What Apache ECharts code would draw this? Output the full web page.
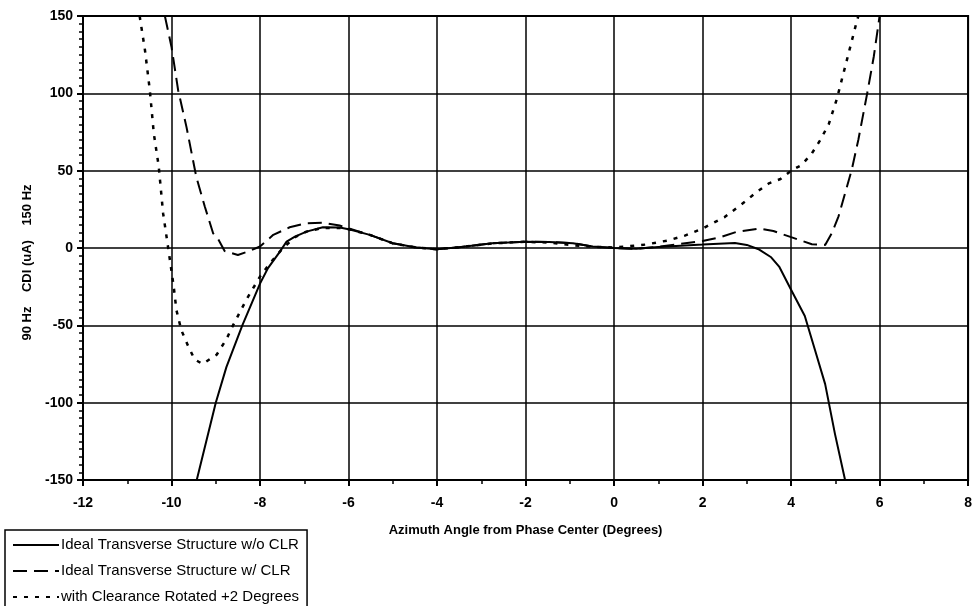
<!DOCTYPE html>
<html>
<head>
<meta charset="utf-8">
<script src="https://cdn.jsdelivr.net/npm/echarts@6/dist/echarts.min.js"></script>
<style>
html,body{margin:0;padding:0;background:#fff;}
#chart{width:975px;height:606px;}
</style>
</head>
<body>
<div id="chart"></div>
<script>
// Tick settings (values)
const xTicks = { min: -12, max: 8, step: 2 };
const yTicks = { min: -150, max: 150, step: 50 };

const seriesNames = [
  'Ideal Transverse Structure w/o CLR',
  'Ideal Transverse Structure w/ CLR',
  'with Clearance Rotated +2 Degrees'
];

// [azimuth deg, CDI uA]
const idealNoClr = [
  [-9.43,-150],[-9.0,-100],[-8.76,-77],[-8.4,-50],[-8.0,-23],[-7.82,-13],[-7.55,-2.3],
  [-7.40,4.1],[-7.21,7.4],[-6.95,10.6],[-6.58,13.4],[-6.2,13.2],[-5.97,12],[-5.52,8.5],
  [-5.0,3.1],[-4.47,0.3],[-4.0,-0.8],[-3.5,0.5],[-2.75,3.1],[-2.0,4.1],[-1.46,3.9],
  [-0.93,3.1],[-0.48,0.9],[0,0],[0.5,-0.5],[1.0,0.6],[1.5,1.5],[2.0,2.2],[2.73,3.3],
  [3.0,2],[3.28,-1],[3.55,-6],[3.73,-12],[4.0,-27],[4.31,-44],[4.54,-66],[4.77,-88],
  [4.99,-120],[5.22,-150]
];

const idealWithClr = [
  [-10.15,150],[-10.0,130],[-9.85,102],[-9.66,78],[-9.44,46],[-9.25,27],[-9.06,9.5],
  [-8.95,6],[-8.8,-2],[-8.5,-4.5],[-8.25,-2],[-8.0,1],[-7.7,8.5],[-7.33,13.4],[-6.95,16],
  [-6.58,16.4],[-6.2,14.5],[-5.97,12.5],[-5.52,8.5],[-5.0,3.1],[-4.47,0.3],[-4.0,-0.8],
  [-3.5,0.5],[-2.75,3.1],[-2.0,4.1],[-1.46,3.9],[-0.93,3.1],[-0.48,0.9],[0,0],[0.5,-0.5],
  [1.0,0.8],[1.39,2.2],[2.0,4.5],[2.4,7],[2.75,10.3],[3.28,12.6],[3.6,11],[4.0,7],
  [4.47,2.4],[4.77,2],[4.92,9.6],[5.07,20.3],[5.22,35.4],[5.37,50.5],[5.52,70],
  [5.72,100],[5.87,124],[6.0,150]
];

const rotatedClr = [
  [-10.72,150],[-10.6,128],[-10.49,102],[-10.40,74],[-10.29,53],[-10.19,22.5],[-10.08,1],
  [-9.95,-25],[-9.89,-40],[-9.78,-53],[-9.63,-63],[-9.48,-72],[-9.3,-75],[-8.98,-69],
  [-8.76,-59],[-8.61,-50],[-8.31,-33.5],[-8.0,-18.5],[-7.78,-10],[-7.48,0],[-7.21,7],
  [-6.95,10.6],[-6.58,13],[-6.2,13],[-5.97,12],[-5.52,8.5],[-5.0,3],[-4.47,0.3],
  [-4.0,-0.8],[-3.5,0.5],[-2.75,3],[-2.0,4],[-1.46,3.5],[-0.93,1.7],[-0.48,0.8],[0,0.3],
  [0.71,2.2],[1.24,5],[1.6,8],[2.0,12.6],[2.5,20],[2.96,30],[3.23,36.4],[3.5,41.8],
  [3.76,44.6],[4.0,50],[4.24,53.7],[4.47,61.2],[4.66,69.8],[4.85,80],[5.03,96],
  [5.22,117],[5.48,146],[5.52,150]
];

const chart = echarts.init(document.getElementById('chart'), null, {renderer: 'canvas'});
const FONT = 'Liberation Sans, Arial, sans-serif';

chart.setOption({
  animation: false,
  backgroundColor: '#fff',
  grid: {
    left: 83, right: 6, top: 16, bottom: 126,
    show: true, borderColor: '#000', borderWidth: 2, backgroundColor: '#fff'
  },
  legend: {
    orient: 'vertical',
    left: 5, top: 530, height: 200,
    padding: [7, 8, 8, 7],
    borderColor: '#000', borderWidth: 1.5,
    itemWidth: 46, itemHeight: 14, itemGap: 10,
    itemStyle: { color: 'rgba(0,0,0,0)', borderWidth: 0, opacity: 0 },
    textStyle: { fontFamily: FONT, fontSize: 15, color: '#000', lineHeight: 16, padding: [0,0,0,-3] },
    data: seriesNames
  },
  xAxis: {
    type: 'value',
    min: xTicks.min, max: xTicks.max, interval: xTicks.step,
    name: 'Azimuth Angle from Phase Center (Degrees)',
    nameLocation: 'middle', nameGap: 44,
    nameTextStyle: { fontFamily: FONT, fontSize: 13, fontWeight: 'bold', color: '#000' },
    axisLine: { onZero: false, lineStyle: { color: '#000', width: 2 } },
    axisTick: { show: true, length: 6, lineStyle: { color: '#000', width: 2 } },
    minorTick: { show: true, splitNumber: 2, length: 4, lineStyle: { color: '#000', width: 1.5 } },
    axisLabel: { fontFamily: FONT, fontSize: 14, fontWeight: 'bold', color: '#000', margin: 16 },
    splitLine: { show: true, lineStyle: { color: '#000', width: 1.5 } }
  },
  yAxis: {
    type: 'value',
    min: yTicks.min, max: yTicks.max, interval: yTicks.step,
    name: '90 Hz    CDI (uA)    150 Hz        ',
    nameLocation: 'middle', nameGap: 43,
    nameTextStyle: { fontFamily: FONT, fontSize: 13, fontWeight: 'bold', color: '#000' },
    axisLine: { onZero: false, lineStyle: { color: '#000', width: 2 } },
    axisTick: { show: true, length: 6, lineStyle: { color: '#000', width: 2 } },
    minorTick: { show: true, splitNumber: 10, length: 4, lineStyle: { color: '#000', width: 1.5 } },
    axisLabel: { fontFamily: FONT, fontSize: 14, fontWeight: 'bold', color: '#000', margin: 10 },
    splitLine: { show: true, lineStyle: { color: '#000', width: 1.5 } }
  },
  series: [
    {
      name: seriesNames[0], type: 'line', data: idealNoClr,
      symbol: 'none', showSymbol: false, clip: true,
      lineStyle: { color: '#000', width: 2, type: 'solid' },
      itemStyle: { color: '#000' }
    },
    {
      name: seriesNames[1], type: 'line', data: idealWithClr,
      symbol: 'none', showSymbol: false, clip: true,
      lineStyle: { color: '#000', width: 2, type: [14, 7] },
      itemStyle: { color: '#000' }
    },
    {
      name: seriesNames[2], type: 'line', data: rotatedClr,
      symbol: 'none', showSymbol: false, clip: true,
      lineStyle: { color: '#000', width: 2.5, type: [4, 7] },
      itemStyle: { color: '#000' }
    }
  ]
});
</script>
</body>
</html>
